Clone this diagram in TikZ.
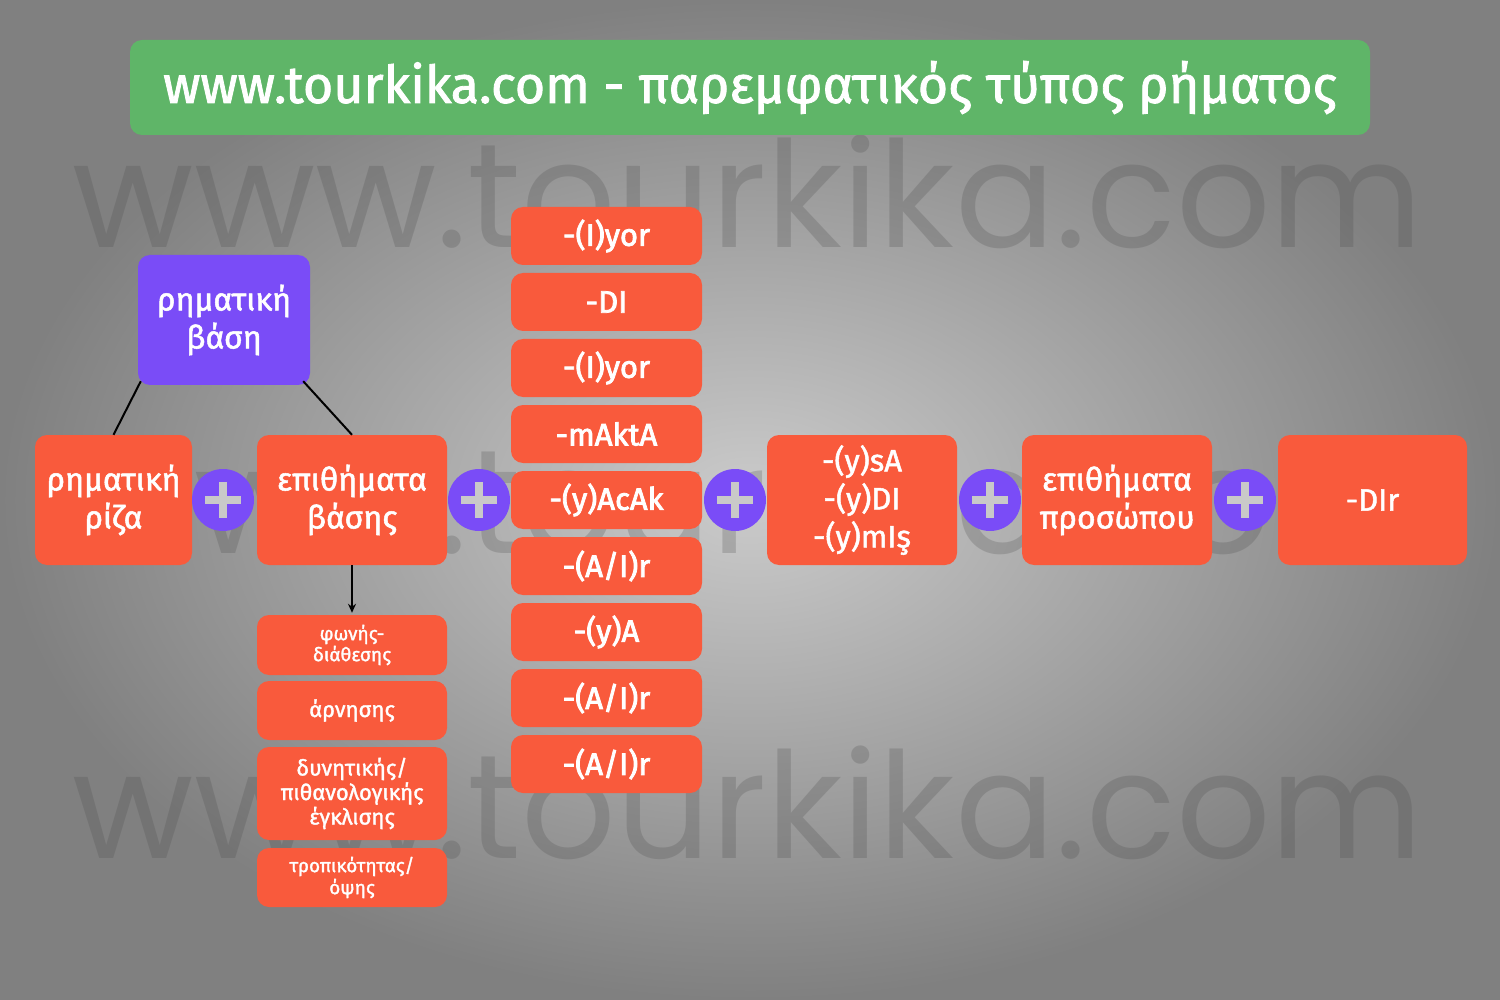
\documentclass[tikz,border=0pt]{standalone}
\usepackage{fontspec}
\setmainfont{Fira Sans}
\newfontfamily\medfont{Fira Sans}[FakeBold=1.6]
\newfontfamily\semifont{Fira Sans}[FakeBold=2.6]
\newfontfamily\wmfont{Poppins}
\usetikzlibrary{arrows.meta,calc}
\definecolor{orng}{HTML}{F95A3C}
\definecolor{purp}{HTML}{7A4CF7}
\definecolor{grn}{HTML}{5FB568}
\definecolor{bgin}{HTML}{CBCBCB}
\definecolor{bgout}{HTML}{808080}
\definecolor{plusgray}{HTML}{C9C9C9}
\definecolor{wmgray}{HTML}{4A4A4A}
\tikzset{
  box/.style={rectangle, rounded corners=12pt, fill=orng, text=white, align=center, inner sep=0pt,
    font=\medfont\fontsize{32}{38}\selectfont},
  bigbox/.style={box, minimum width=190pt, minimum height=130pt},
  narrowbox/.style={bigbox, font=\medfont\fontsize{31}{38}\selectfont},
  colbox/.style={box, minimum width=191pt, minimum height=58pt, font=\semifont\fontsize{31}{34}\selectfont},
  subbox/.style={box, minimum width=190pt},
  plusnode/.style={circle, fill=purp, minimum size=62pt, inner sep=0pt,
    path picture={\draw[plusgray, line width=8pt] ($(path picture bounding box.center)+(-18,0)$) -- ($(path picture bounding box.center)+(18,0)$);
                  \draw[plusgray, line width=8pt] ($(path picture bounding box.center)+(0,-18)$) -- ($(path picture bounding box.center)+(0,18)$);}},
  wm/.style={font=\wmfont\fontsize{148}{150}\selectfont, text=wmgray, opacity=0.24, inner sep=0pt, anchor=base},
  link/.style={draw=black, line width=2pt},
}
\begin{document}
\begin{tikzpicture}[x=1pt,y=-1pt]
\shade[inner color=bgin, outer color=bgout] (0,0) rectangle (1500,1000);
\useasboundingbox (0,0) rectangle (1500,1000);
% watermarks
\node[wm] (wm1) at (748,248) {www.tourkika.com};
\node[wm] (wm2) at (748,553) {www.tourkika.com};
\node[wm] (wm3) at (748,858) {www.tourkika.com};
% title
\node[rectangle, rounded corners=12pt, fill=grn, text=white, minimum width=1240pt, minimum height=95pt, inner sep=0pt,
  font=\medfont\fontsize{52}{56}\selectfont] (title) at (750,87.5) {www.tourkika.com - παρεμφατικός τύπος ρήματος};
% main row
\node[box, fill=purp, minimum width=172pt, minimum height=130pt] (vasi) at (224,320) {ρηματική\\βάση};
\node[box, minimum width=157pt, minimum height=130pt] (riza) at (113.5,500) {ρηματική\\ρίζα};
\node[plusnode] (p1) at (223,500) {};
\node[bigbox] (epb) at (352,500) {επιθήματα\\βάσης};
\node[plusnode] (p2) at (479,500) {};
\node[colbox] (c1) at (606.5,236) {-(I)yor};
\node[colbox] (c2) at (606.5,302) {-DI};
\node[colbox] (c3) at (606.5,368) {-(I)yor};
\node[colbox] (c4) at (606.5,434) {-mAktA};
\node[colbox] (c5) at (606.5,500) {-(y)AcAk};
\node[colbox] (c6) at (606.5,566) {-(A/I)r};
\node[colbox] (c7) at (606.5,632) {-(y)A};
\node[colbox] (c8) at (606.5,698) {-(A/I)r};
\node[colbox] (c9) at (606.5,764) {-(A/I)r};
\node[plusnode] (p3) at (735,500) {};
\node[narrowbox] (ysa) at (862,500) {-(y)sA\\-(y)DI\\-(y)mIş};
\node[plusnode] (p4) at (990,500) {};
\node[bigbox] (epp) at (1117,500) {επιθήματα\\προσώπου};
\node[plusnode] (p5) at (1245,500) {};
\node[narrowbox, minimum width=189pt] (dir) at (1372.5,500) {-DIr};
% sub boxes
\node[subbox, minimum height=60pt, font=\medfont\fontsize{19}{21}\selectfont] (s1) at (352,645) {φωνής-\\διάθεσης};
\node[subbox, minimum height=59pt, font=\medfont\fontsize{22}{24}\selectfont] (s2) at (352,710.5) {άρνησης};
\node[subbox, minimum height=93pt, font=\medfont\fontsize{22}{24.5}\selectfont] (s3) at (352,793.5) {δυνητικής/\\πιθανολογικής\\έγκλισης};
\node[subbox, minimum height=59pt, font=\medfont\fontsize{19}{22}\selectfont] (s4) at (352,877.5) {τροπικότητας/\\όψης};
% connectors
\draw[link] ($(vasi.south west)+(3,-4)$) -- (riza.north);
\draw[link] ($(vasi.south east)+(-7,-4)$) -- (epb.north);
\draw[link, -{Stealth[length=9pt,width=8pt]}] (epb.south) -- ($(s1.north)+(0,-2)$);
\end{tikzpicture}
\end{document}
